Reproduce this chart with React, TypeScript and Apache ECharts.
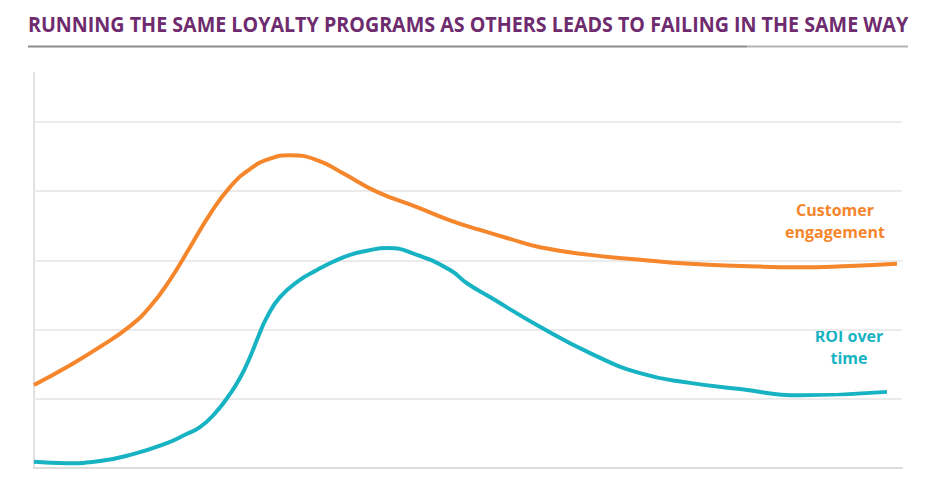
import React, { useEffect, useRef } from "react";
import * as echarts from "echarts";

const titleText = "RUNNING THE SAME LOYALTY PROGRAMS AS OTHERS LEADS TO FAILING IN THE SAME WAY";
const engagementLabel = "Customer\nengagement";
const roiLabel = "ROI over\ntime";

// x: time (0-100), y: level (0-5)
const engagementX = [0, 3.8, 7.6, 11.06, 13.36, 15.67, 17.97, 20.28, 22.58, 24.88, 27.19, 29.49, 32.6, 35.6, 39.52, 44.12, 47.93, 51.38, 54.84, 58.29, 64.06, 69.82, 75.58, 81.34, 88.25, 94.01, 99.42];
const engagementY = [1.2, 1.46, 1.75, 2.05, 2.33, 2.72, 3.19, 3.67, 4.06, 4.32, 4.47, 4.52, 4.45, 4.26, 3.99, 3.77, 3.58, 3.44, 3.31, 3.19, 3.08, 3.01, 2.95, 2.92, 2.9, 2.92, 2.95];

const roiX = [0, 3.8, 7.6, 11.41, 15.32, 17.4, 19.12, 20.85, 22.58, 23.73, 24.88, 25.81, 26.84, 28.34, 30.65, 32.6, 34.45, 36.41, 38.36, 40.67, 44.12, 47.93, 49.88, 52.53, 58.29, 64.06, 69.82, 75.58, 81.34, 88.25, 98.27];
const roiY = [0.09, 0.07, 0.1, 0.2, 0.36, 0.48, 0.59, 0.79, 1.07, 1.3, 1.6, 1.89, 2.18, 2.47, 2.72, 2.86, 2.98, 3.08, 3.14, 3.18, 3.08, 2.86, 2.67, 2.47, 2.04, 1.66, 1.37, 1.23, 1.14, 1.05, 1.1];

const ORANGE = "#F5862B";
const TEAL = "#17B3C3";

export default function App() {
  const ref = useRef<HTMLDivElement>(null);
  useEffect(() => {
    if (!ref.current) return;
    const chart = echarts.init(ref.current, null, { renderer: "svg" });
    const font = "'Open Sans', 'Noto Sans', sans-serif";
    chart.setOption({
      animation: false,
      backgroundColor: "#ffffff",
      grid: { left: 34, right: 34, top: 122, bottom: 10 },
      xAxis: {
        type: "value",
        min: 0,
        max: 100,
        axisLine: { show: true, lineStyle: { color: "#dcdcdc", width: 2 } },
        axisTick: { show: false },
        axisLabel: { show: false },
        splitLine: { show: false },
      },
      yAxis: {
        type: "value",
        min: 0,
        max: 5,
        interval: 1,
        axisLine: { show: false },
        axisTick: { show: false },
        axisLabel: { show: false },
        splitLine: { show: true, lineStyle: { color: "#ebebeb", width: 2 } },
      },
      graphic: [
        {
          type: "text",
          x: 28,
          y: 13,
          scaleX: 0.895,
          style: {
            text: titleText,
            fill: "#6E2C6F",
            font: `bold 22px ${font}`,
            textVerticalAlign: "top",
          },
        },
        {
          type: "line",
          shape: { x1: 28, y1: 46.5, x2: 747, y2: 46.5 },
          style: { stroke: "#8c8c8c", lineWidth: 2 },
        },
        {
          type: "line",
          shape: { x1: 747, y1: 46.5, x2: 908, y2: 46.5 },
          style: { stroke: "#b4b4b4", lineWidth: 2 },
        },
        {
          type: "line",
          shape: { x1: 34, y1: 72, x2: 34, y2: 468 },
          style: { stroke: "#e2e2e2", lineWidth: 2 },
        },
        {
          type: "text",
          x: 835,
          y: 199,
          style: {
            text: engagementLabel,
            fill: ORANGE,
            font: `bold 16px ${font}`,
            align: "center",
            lineHeight: 22,
          },
        },
        {
          type: "text",
          x: 849,
          y: 325,
          style: {
            text: roiLabel,
            fill: TEAL,
            font: `bold 16px ${font}`,
            align: "center",
            lineHeight: 22,
          },
        },
      ],
      series: [
        {
          name: "Customer engagement",
          type: "line",
          data: engagementX.map((x, i) => [x, engagementY[i]]),
          smooth: 0.5,
          symbol: "none",
          lineStyle: { color: ORANGE, width: 4 },
        },
        {
          name: "ROI over time",
          type: "line",
          data: roiX.map((x, i) => [x, roiY[i]]),
          smooth: 0.5,
          symbol: "none",
          lineStyle: { color: TEAL, width: 4 },
        },
      ],
    });
    return () => chart.dispose();
  }, []);
  return (
    <div
      ref={ref}
      style={{ position: "fixed", left: 0, top: 0, width: 936, height: 478 }}
    />
  );
}
